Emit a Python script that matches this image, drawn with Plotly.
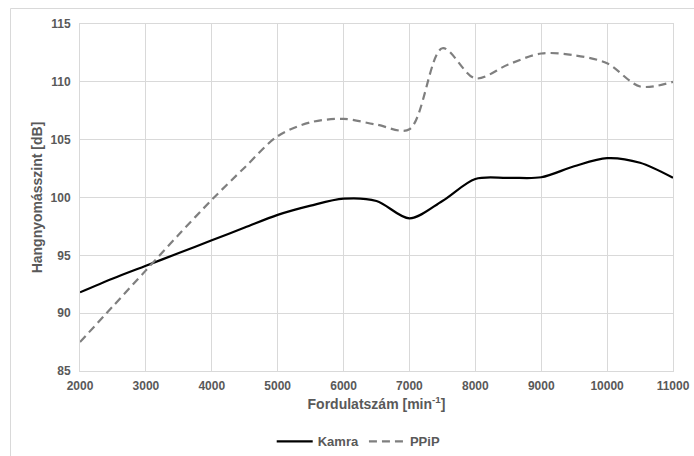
import plotly.graph_objects as go

rpm = [2000, 2500, 3000, 3500, 4000, 4500, 5000, 5500, 6000, 6500, 7000,
       7500, 8000, 8500, 9000, 9500, 10000, 10500, 11000]
kamra = [91.8, 93.0, 94.1, 95.2, 96.3, 97.4, 98.5, 99.3, 99.9, 99.7, 98.2,
         99.7, 101.6, 101.7, 101.75, 102.7, 103.4, 103.0, 101.7]
ppip = [87.5, 90.6, 93.7, 96.8, 99.8, 102.6, 105.3, 106.5, 106.8, 106.3, 105.9,
        112.9, 110.3, 111.5, 112.45, 112.3, 111.6, 109.6, 110.0]

x_ticks = [2000, 3000, 4000, 5000, 6000, 7000, 8000, 9000, 10000, 11000]
y_ticks = [85, 90, 95, 100, 105, 110, 115]

FONT = "Liberation Sans, Arial, sans-serif"
GRID = "#d9d9d9"
TXT = "#595959"

fig = go.Figure()
fig.add_trace(go.Scatter(x=rpm, y=kamra, name="Kamra", mode="lines",
                         line=dict(color="#000000", width=2.2, shape="spline", smoothing=0.9)))
fig.add_trace(go.Scatter(x=rpm, y=ppip, name="PPiP", mode="lines",
                         line=dict(color="#7f7f7f", width=2.2, dash="8px,5px", shape="spline", smoothing=0.9)))

# chart-area border (top and left edges visible in the window)
bx = (10.5 - 80) / 593
by = (371 - 8.5) / 347
border = [
    dict(type="line", xref="paper", yref="paper", x0=bx, x1=1.1, y0=by, y1=by,
         line=dict(color=GRID, width=1), layer="above"),
    dict(type="line", xref="paper", yref="paper", x0=bx, x1=bx, y0=by, y1=-0.3,
         line=dict(color=GRID, width=1), layer="above"),
]

fig.update_layout(
    width=694, height=456,
    margin=dict(l=80, r=21, t=24, b=85, autoexpand=False),
    paper_bgcolor="white", plot_bgcolor="white",
    font=dict(family=FONT, color=TXT, size=12),
    showlegend=True,
    legend=dict(orientation="h", x=0.47, xanchor="center", y=-0.203, yanchor="middle",
                font=dict(family=FONT, size=13, color=TXT, weight="bold"),
                itemwidth=36, tracegroupgap=0),
    xaxis=dict(range=[2000, 11000], tickvals=x_ticks, ticktext=[str(v) for v in x_ticks],
               showgrid=True, gridcolor=GRID, gridwidth=1, zeroline=False,
               showline=True, linecolor=GRID, linewidth=1, mirror=True,
               automargin=False,
               tickfont=dict(family=FONT, size=12, color=TXT, weight="bold"),
               ticks="", ticklabelstandoff=4,
               title=dict(text="Fordulatszám [min<sup>-1</sup>]", standoff=6,
                          font=dict(family=FONT, size=14, color=TXT, weight="bold"))),
    yaxis=dict(range=[85, 115], tickvals=y_ticks, ticktext=[str(v) for v in y_ticks],
               showgrid=True, gridcolor=GRID, gridwidth=1, zeroline=False,
               showline=True, linecolor=GRID, linewidth=1, mirror=True,
               automargin=False,
               tickfont=dict(family=FONT, size=12, color=TXT, weight="bold"),
               ticks="", ticklabelstandoff=6,
               title=dict(text="Hangnyomásszint [dB]", standoff=4,
                          font=dict(family=FONT, size=14, color=TXT, weight="bold"))),
    shapes=border,
)

fig.write_html("out.html", config={"displayModeBar": False},
               post_script="document.body.style.margin='0';document.body.style.padding='0';")
